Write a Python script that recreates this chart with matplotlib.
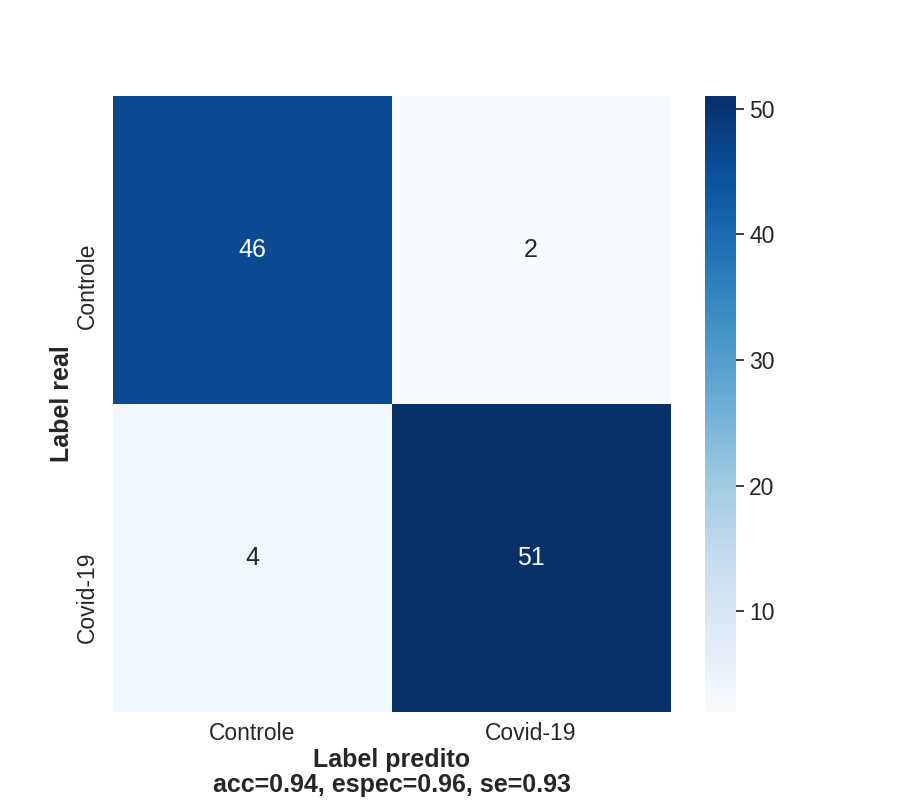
import numpy as np
import matplotlib
matplotlib.use('Agg')
from matplotlib import pyplot as plt
import matplotlib.transforms as mtransforms
import seaborn as sns

classes = ['Controle', 'Covid-19']
cm = np.array([[46, 2],
               [4, 51]])
acc = 0.94
espec = 0.96
se = 0.93

sns.set(style='white', font_scale=1.5)
plt.rcParams['font.family'] = ['Liberation Sans', 'DejaVu Sans']

fig, ax = plt.subplots(figsize=(9, 8), dpi=100)
sns.heatmap(cm, annot=True, fmt='d', cmap='Blues', ax=ax,
            xticklabels=classes, yticklabels=classes)
# labels in the original hang a bit below the row centres
shift = mtransforms.ScaledTranslation(0, 5 / 72, fig.dpi_scale_trans)
for lbl in ax.get_yticklabels():
    lbl.set_va('top')
    lbl.set_transform(lbl.get_transform() + shift)
ax.tick_params(axis='x', pad=1)
ax.set_ylabel('Label real', fontweight='bold', labelpad=2)
ax.set_xlabel('Label predito\nacc={:.2f}, espec={:.2f}, se={:.2f}'.format(acc, espec, se),
              fontweight='bold', linespacing=1.08, labelpad=2)
plt.savefig('out.png', dpi=100)
